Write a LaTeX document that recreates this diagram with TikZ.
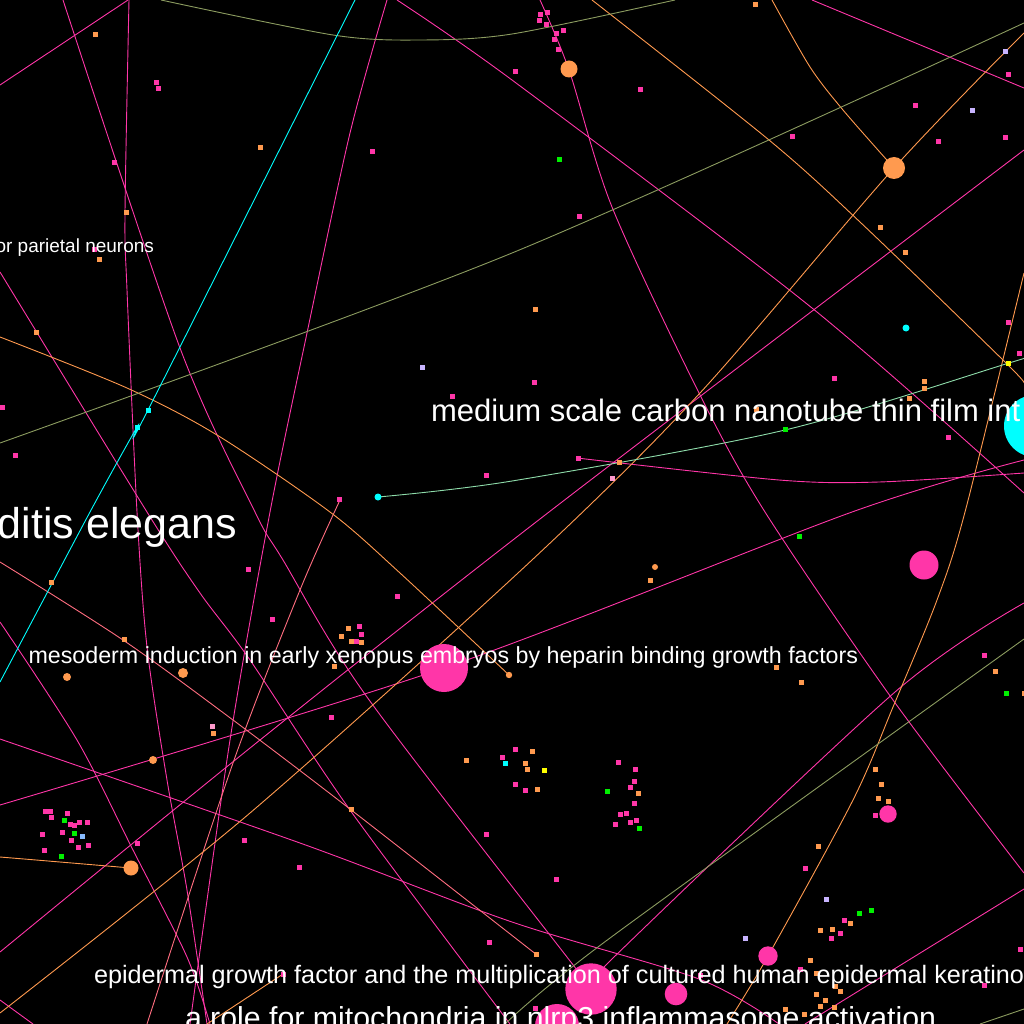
\documentclass[tikz,border=0pt]{standalone}
\usepackage{fontspec}
\setmainfont{Liberation Sans}
\definecolor{pk}{HTML}{FF36A8}
\definecolor{orn}{HTML}{FF9A4F}
\definecolor{olv}{HTML}{8C9C60}
\definecolor{mnt}{HTML}{8EDCAA}
\definecolor{sal}{HTML}{FF6E80}
\definecolor{cyn}{HTML}{00FFFF}
\definecolor{grn}{HTML}{00F000}
\definecolor{lav}{HTML}{C8B4FF}
\definecolor{ylw}{HTML}{FFFF00}
\definecolor{lpk}{HTML}{FF9ACC}
\definecolor{lbl}{HTML}{88BBFF}
\begin{document}
\begin{tikzpicture}[x=1pt,y=-1pt,
  edge/.style={line width=0.9pt},
  label/.style={text=white,inner sep=0pt,outer sep=0pt}]
\useasboundingbox (0,0) rectangle (1024,1024);
\fill[black] (0,0) rectangle (1024,1024);
\clip (0,0) rectangle (1024,1024);
% ---- pink edges
\draw[edge,pk] plot[smooth] coordinates {(397,0) (512,80) (812,308) (1024,493)};
\draw[edge,pk] plot[smooth] coordinates {(63,0) (180,348) (255,512) (283,560) (367,697) (577,970) (591,989)};
\draw[edge,pk] plot[smooth] coordinates {(129,0) (125,213) (127,290) (137,512) (147,647) (167,780) (187,890) (207,1024)};
\draw[edge,pk] plot[smooth] coordinates {(387,0) (350,133) (307,333) (270,512) (230,740) (190,1024)};
\draw[edge,pk] plot[smooth] coordinates {(0,272) (147,512) (200,593) (250,660) (350,810) (510,1024)};
\draw[edge,pk] plot[smooth] coordinates {(0,622) (77,740) (133,850) (187,957) (210,1024)};
\draw[edge,pk] plot[smooth] coordinates {(540,0) (569,70) (612,207) (699,393) (765,512) (893,700) (1024,873)};
\draw[edge,pk] (812,0) -- (1024,88);
\draw[edge,pk] plot[smooth] coordinates {(1024,150) (549,512) (260,740) (0,952)};
\draw[edge,pk] plot[smooth] coordinates {(0,805) (444,668) (852,512) (1024,460)};
\draw[edge,pk] plot[smooth] coordinates {(577,458) (779,480) (879,482) (1024,473)};
\draw[edge,pk] plot[smooth] coordinates {(1024,603) (895,692) (612,959) (591,989)};
\draw[edge,pk] plot[smooth] coordinates {(0,739) (300,843) (512,922) (699,979) (779,1024)};
\draw[edge,pk] (1024,889) -- (805,1024);
\draw[edge,pk] (0,85) -- (128,0);
\draw[edge,pk] (0,1000) -- (33,1024);
\draw[edge,sal] plot[smooth] coordinates {(340,500) (300,590) (233,763) (147,1024)};
\draw[edge,sal] plot[smooth] coordinates {(0,562) (123,640) (233,720) (350,809) (537,955)};
% ---- orange edges
\draw[edge,orn] plot[smooth] coordinates {(592,0) (769,140) (860,222) (1005,362) (1024,383)};
\draw[edge,orn] plot[smooth] coordinates {(772,0) (810,67) (843,110) (894,168)};
\draw[edge,orn] plot[smooth] coordinates {(1024,33) (894,168) (700,393) (532,560) (250,813) (0,1013)};
\draw[edge,orn] plot[smooth] coordinates {(1024,273) (965,512) (937,600) (893,707) (853,800) (768,956) (727,1024)};
\draw[edge,orn] plot[smooth] coordinates {(0,337) (127,388) (217,435) (330,512) (400,573) (509,675)};
\draw[edge,orn] plot[smooth] coordinates {(0,857) (60,862) (131,868)};
\draw[edge,orn] (207,1024) -- (283,974);
% ---- olive, cyan, mint edges
\draw[edge,olv] plot[smooth] coordinates {(161,0) (333,35) (420,40) (512,34) (675,0)};
\draw[edge,olv] plot[smooth] coordinates {(0,443) (512,253) (1024,23)};
\draw[edge,olv] plot[smooth] coordinates {(1024,639) (610,938) (505,1024)};
\draw[edge,olv] (980,1024) -- (1024,1009);
\draw[edge,cyn] plot[smooth] coordinates {(355,0) (148,410) (137,427) (90,512) (0,682)};
\draw[edge,mnt] plot[smooth] coordinates {(378,497) (512,481) (785,430) (1009,363) (1024,358)};
% ---- small square nodes
\foreach \x/\y in {156/83,158/89,114/163,372/152,94/249,2/407,15/455,452/396,486/475,339/499,
  540/15,547/13,539/21,546/25,556/34,563/31,554/40,558/50,515/72,640/90,1008/75,915/106,792/137,938/142,1005/138,579/217,1008/322,1019/353,534/382,834/378,948/437,578/458,
  248/569,272/619,397/596,359/626,361/634,356/641,331/717,502/757,
  45/811,50/811,51/817,67/813,70/824,74/825,79/822,87/822,42/834,62/832,71/840,78/847,88/845,44/850,
  137/843,244/840,299/867,486/834,489/942,283/974,
  984/655,515/749,515/784,525/790,618/762,635/769,634/781,630/787,634/803,620/814,626/813,615/824,630/822,636/820,875/815,805/868,556/879,844/920,840/933,831/938,800/969,1020/949,984/985,700/975,535/1008}
  \fill[pk] (\x-2.5,\y-2.5) rectangle (\x+2.5,\y+2.5);
\foreach \x/\y in {95/35,126/213,260/148,99/259,36/332,755/5,880/228,905/252,535/309,924/381,924/388,909/398,756/409,619/462,51/582,124/639,348/628,341/636,351/641,361/642,334/666,213/733,466/760,351/809,650/580,776/667,801/682,995/671,1024/693,532/751,525/763,527/769,537/789,638/793,875/769,881/784,878/798,888/801,818/846,850/923,832/929,820/930,810/960,816/973,536/954,835/986,840/991,816/994,825/1000,820/1006,834/1007,785/1009,804/1014}
  \fill[orn] (\x-2.5,\y-2.5) rectangle (\x+2.5,\y+2.5);
\foreach \x/\y in {559/160,785/429,64/820,74/833,61/856,799/536,1006/693,607/791,639/828,859/913,871/910}
  \fill[grn] (\x-2.5,\y-2.5) rectangle (\x+2.5,\y+2.5);
\foreach \x/\y in {422/367,1005/52,972/111,826/899,745/938}
  \fill[lav] (\x-2.5,\y-2.5) rectangle (\x+2.5,\y+2.5);
\foreach \x/\y in {1008/363,544/770}
  \fill[ylw] (\x-2.5,\y-2.5) rectangle (\x+2.5,\y+2.5);
\foreach \x/\y in {612/478,212/726}
  \fill[lpk] (\x-2.5,\y-2.5) rectangle (\x+2.5,\y+2.5);
\fill[lbl] (79.5,833.5) rectangle (84.5,838.5);
\foreach \x/\y in {148/410,137/427,505/763}
  \fill[cyn] (\x-2.5,\y-2.5) rectangle (\x+2.5,\y+2.5);
% ---- round nodes
\fill[cyn] (906,328) circle (3.5pt);
\fill[cyn] (378,497) circle (3.5pt);
\foreach \x/\y/\r in {655/567/3,67/677/4,183/673/5,153/760/4,509/675/3.2,894/168/11,569/69/8.5,131/868/7.5}
  \fill[orn] (\x,\y) circle (\r pt);
\foreach \x/\y/\r in {444/668/24,924/565/14.5,888/814/8.7,768/956/9.7,591/989/25.7,676/994/11.3,557/1026/22}
  \fill[pk] (\x,\y) circle (\r pt);
\fill[cyn] (1035,426) circle (31pt);
% ---- labels
\node[label,anchor=base east,font=\fontsize{19}{19}\selectfont] (lpar) at (154,252) {or parietal neurons};
\node[label,anchor=base west,font=\fontsize{31}{31}\selectfont] (lcnt) at (431,421) {medium scale carbon nanotube thin film int};
\node[label,anchor=base east,font=\fontsize{43}{43}\selectfont] (lcel) at (237,538) {ditis elegans};
\node[label,anchor=base west,font=\fontsize{23.25}{23.25}\selectfont] (lmes) at (28.5,663) {mesoderm induction in early xenopus embryos by heparin binding growth factors};
\node[label,anchor=base west,font=\fontsize{25.2}{25.2}\selectfont] (legf) at (94,983) {epidermal growth factor and the multiplication of cultured human epidermal keratinocytes};
\node[label,anchor=base west,font=\fontsize{30.3}{30.3}\selectfont] (lmit) at (185,1028) {a role for mitochondria in nlrp3 inflammasome activation};
\end{tikzpicture}
\end{document}
